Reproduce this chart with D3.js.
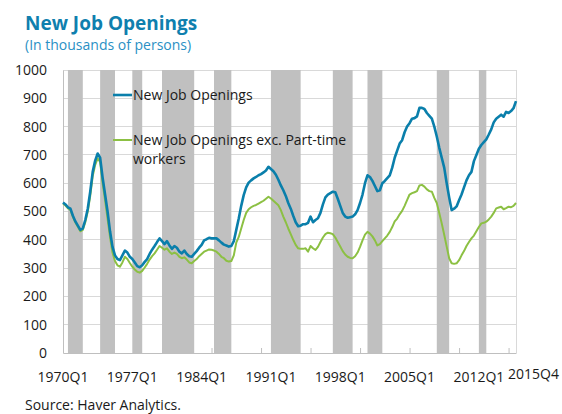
<!DOCTYPE html>
<html>
<head>
<meta charset="utf-8">
<script src="https://cdn.jsdelivr.net/npm/d3@7/dist/d3.min.js"></script>
<style>
  html, body { margin: 0; padding: 0; background: #ffffff; }
  svg { display: block; font-family: "Open Sans", "Noto Sans", sans-serif; }
</style>
</head>
<body>
<svg id="chart" width="562" height="414"></svg>
<script>
// ---------------- DATA ----------------
const startYear = 1970, endYear = 2015;
const quarters = [];
for (let y = startYear; y <= endYear; y++) for (let q = 1; q <= 4; q++) quarters.push(y + "Q" + q);

const newJobOpenings = [
  532, 525, 515, 510,   // 1970
  485, 465, 450, 435,   // 1971
  440, 470, 510, 570,   // 1972
  640, 680, 705, 690,   // 1973
  620, 560, 500, 430,   // 1974
  375, 345, 332, 328,   // 1975
  345, 362, 355, 340,   // 1976
  332, 320, 307, 303,   // 1977
  310, 322, 332, 350,   // 1978
  365, 378, 392, 405,   // 1979
  395, 385, 395, 380,   // 1980
  368, 378, 372, 358,   // 1981
  352, 362, 350, 342,   // 1982
  340, 350, 360, 372,   // 1983
  382, 398, 402, 407,   // 1984
  405, 405, 405, 398,   // 1985
  390, 383, 380, 376,   // 1986
  378, 395, 435, 475,   // 1987
  520, 558, 585, 602,   // 1988
  610, 617, 622, 628,   // 1989
  632, 638, 645, 658,   // 1990
  650, 642, 630, 612,   // 1991
  592, 575, 555, 530,   // 1992
  510, 485, 462, 448,   // 1993
  450, 455, 455, 460,   // 1994
  482, 462, 470, 476,   // 1995
  495, 525, 550, 560,   // 1996
  565, 570, 568, 545,   // 1997
  520, 495, 482, 478,   // 1998
  480, 482, 490, 505,   // 1999
  530, 560, 600, 628,   // 2000
  622, 608, 590, 572,   // 2001
  575, 600, 608, 618,   // 2002
  628, 655, 690, 715,   // 2003
  740, 752, 780, 800,   // 2004
  812, 828, 830, 836,   // 2005
  866, 866, 862, 848,   // 2006
  838, 828, 800, 765,   // 2007
  725, 690, 655, 600,   // 2008
  550, 505, 510, 518,   // 2009
  540, 560, 585, 610,   // 2010
  628, 640, 678, 700,   // 2011
  722, 735, 745, 755,   // 2012
  772, 790, 815, 828,   // 2013
  835, 842, 835, 852,   // 2014
  848, 855, 865, 890    // 2015
];

const excPartTime = [
  528, 521, 511, 506,   // 1970
  481, 461, 446, 430,   // 1971
  435, 462, 500, 555,   // 1972
  625, 665, 688, 675,   // 1973
  600, 540, 475, 410,   // 1974
  355, 325, 310, 305,   // 1975
  320, 340, 332, 318,   // 1976
  305, 295, 287, 284,   // 1977
  290, 302, 315, 330,   // 1978
  342, 352, 365, 378,   // 1979
  372, 365, 370, 358,   // 1980
  350, 355, 350, 340,   // 1981
  335, 338, 330, 320,   // 1982
  317, 325, 332, 342,   // 1983
  350, 358, 362, 366,   // 1984
  365, 362, 358, 350,   // 1985
  340, 335, 326, 323,   // 1986
  325, 345, 390, 410,   // 1987
  440, 470, 495, 508,   // 1988
  515, 520, 523, 528,   // 1989
  533, 538, 545, 552,   // 1990
  546, 538, 530, 522,   // 1991
  505, 482, 462, 440,   // 1992
  420, 400, 382, 370,   // 1993
  368, 368, 370, 358,   // 1994
  378, 370, 364, 375,   // 1995
  392, 408, 420, 425,   // 1996
  423, 420, 408, 392,   // 1997
  376, 360, 348, 340,   // 1998
  336, 335, 342, 355,   // 1999
  375, 398, 418, 428,   // 2000
  422, 412, 398, 380,   // 2001
  385, 395, 405, 415,   // 2002
  428, 445, 465, 475,   // 2003
  490, 502, 520, 540,   // 2004
  560, 565, 568, 572,   // 2005
  592, 594, 588, 578,   // 2006
  572, 570, 548, 530,   // 2007
  495, 458, 418, 376,   // 2008
  335, 317, 315, 317,   // 2009
  328, 345, 360, 378,   // 2010
  392, 405, 415, 430,   // 2011
  445, 458, 460, 464,   // 2012
  472, 482, 495, 511,   // 2013
  514, 517, 508, 512,   // 2014
  517, 515, 520, 530    // 2015
];

// recession periods (shaded): [start quarter, end quarter]
const recessionStarts = ["1970Q3", "1973Q4", "1977Q1", "1980Q1", "1985Q2", "1991Q1", "1997Q2", "2000Q4", "2007Q4", "2012Q1"];
const recessionEnds   = ["1972Q1", "1975Q2", "1978Q1", "1983Q2", "1987Q1", "1994Q1", "1999Q2", "2002Q2", "2009Q1", "2012Q4"];

const xTickLabels = ["1970Q1", "1977Q1", "1984Q1", "1991Q1", "1998Q1", "2005Q1", "2012Q1"];
const xEndLabel = "2015Q4";
const xTickMarks = ["1970Q1", "1975Q1", "1980Q1", "1985Q1", "1990Q1", "1995Q1", "2000Q1", "2005Q1", "2010Q1", "2015Q1"];
const yTicks = [0, 100, 200, 300, 400, 500, 600, 700, 800, 900, 1000];

const seriesNames = ["New Job Openings", "New Job Openings exc. Part-time", "workers"];
const titleText = "New Job Openings";
const subtitleText = "(In thousands of persons)";
const sourceText = "Source: Haver Analytics.";

// ---------------- DRAW ----------------
const svg = d3.select("#chart");
const W = 562, H = 414;
const plot = { left: 63, right: 516, top: 70, bottom: 353 };

svg.append("rect").attr("width", W).attr("height", H).attr("fill", "#ffffff");

const x = d3.scalePoint().domain(quarters).range([plot.left, plot.right]);
const y = d3.scaleLinear().domain([0, 1000]).range([plot.bottom, plot.top]);

// gridlines
svg.append("g").selectAll("line").data(yTicks.filter(d => d > 0)).join("line")
  .attr("x1", plot.left).attr("x2", plot.right)
  .attr("y1", d => y(d)).attr("y2", d => y(d))
  .attr("stroke", "#d9d9d9").attr("stroke-width", 1)
  .attr("shape-rendering", "crispEdges");

// recession bands
svg.append("g").selectAll("rect").data(recessionStarts.map((s, i) => [s, recessionEnds[i]])).join("rect")
  .attr("x", d => x(d[0]))
  .attr("width", d => x(d[1]) - x(d[0]))
  .attr("y", plot.top)
  .attr("height", plot.bottom - plot.top)
  .attr("fill", "#c0c0c0");

// right border
svg.append("line")
  .attr("x1", plot.right).attr("x2", plot.right)
  .attr("y1", plot.top).attr("y2", plot.bottom)
  .attr("stroke", "#d9d9d9").attr("shape-rendering", "crispEdges");

// y axis
const yAxis = d3.axisLeft(y).tickValues(yTicks).tickSize(0).tickPadding(16).tickFormat(d3.format("d"));
const gy = svg.append("g").attr("transform", `translate(${plot.left},0)`).call(yAxis);
gy.select(".domain").attr("stroke", "#bfbfbf");
gy.selectAll("text").attr("font-size", 14).attr("fill", "#1a1a1a")
  .attr("font-family", "'Open Sans', 'Noto Sans', sans-serif");

// x axis (tick marks inside, every 5 years)
const xAxis = d3.axisBottom(x).tickValues(xTickMarks).tickSizeInner(-5).tickSizeOuter(0).tickFormat("");
const gx = svg.append("g").attr("transform", `translate(0,${plot.bottom})`).call(xAxis);
gx.select(".domain").attr("stroke", "#bfbfbf");
gx.selectAll(".tick line").attr("stroke", "#bfbfbf");

// x labels
svg.append("g").selectAll("text").data(xTickLabels).join("text")
  .attr("x", d => x(d)).attr("y", 382)
  .attr("text-anchor", "middle")
  .attr("font-size", 14).attr("fill", "#1a1a1a")
  .text(d => d);
svg.append("text")
  .attr("x", x(xEndLabel) - 8).attr("y", 379)
  .attr("font-size", 14).attr("fill", "#1a1a1a")
  .text(xEndLabel);

// lines
const line = d3.line().x((d, i) => x(quarters[i])).y(d => y(d));
svg.append("path").datum(excPartTime)
  .attr("d", line).attr("fill", "none")
  .attr("stroke", "#8cc043").attr("stroke-width", 2).attr("stroke-linejoin", "round");
svg.append("path").datum(newJobOpenings)
  .attr("d", line).attr("fill", "none")
  .attr("stroke", "#0a7fab").attr("stroke-width", 2.6).attr("stroke-linejoin", "round");

// legend
const lg = svg.append("g");
lg.append("line").attr("x1", 113).attr("x2", 132).attr("y1", 95).attr("y2", 95)
  .attr("stroke", "#0a7fab").attr("stroke-width", 2.6);
lg.append("text").attr("x", 133).attr("y", 100).attr("font-size", 14).attr("fill", "#1a1a1a").text(seriesNames[0]);
lg.append("line").attr("x1", 113).attr("x2", 132).attr("y1", 140).attr("y2", 140)
  .attr("stroke", "#8cc043").attr("stroke-width", 2);
lg.append("text").attr("x", 133).attr("y", 145).attr("font-size", 14).attr("fill", "#1a1a1a").text(seriesNames[1]);
lg.append("text").attr("x", 133).attr("y", 164).attr("font-size", 14).attr("fill", "#1a1a1a").text(seriesNames[2]);

// titles
svg.append("text").attr("x", 25).attr("y", 30)
  .attr("font-size", 19).attr("font-weight", "bold").attr("fill", "#0f7fae")
  .text(titleText);
svg.append("text").attr("x", 25).attr("y", 50)
  .attr("font-size", 14).attr("fill", "#2a90c4")
  .text(subtitleText);
svg.append("text").attr("x", 25).attr("y", 410)
  .attr("font-size", 14).attr("fill", "#1a1a1a")
  .text(sourceText);
</script>
</body>
</html>
